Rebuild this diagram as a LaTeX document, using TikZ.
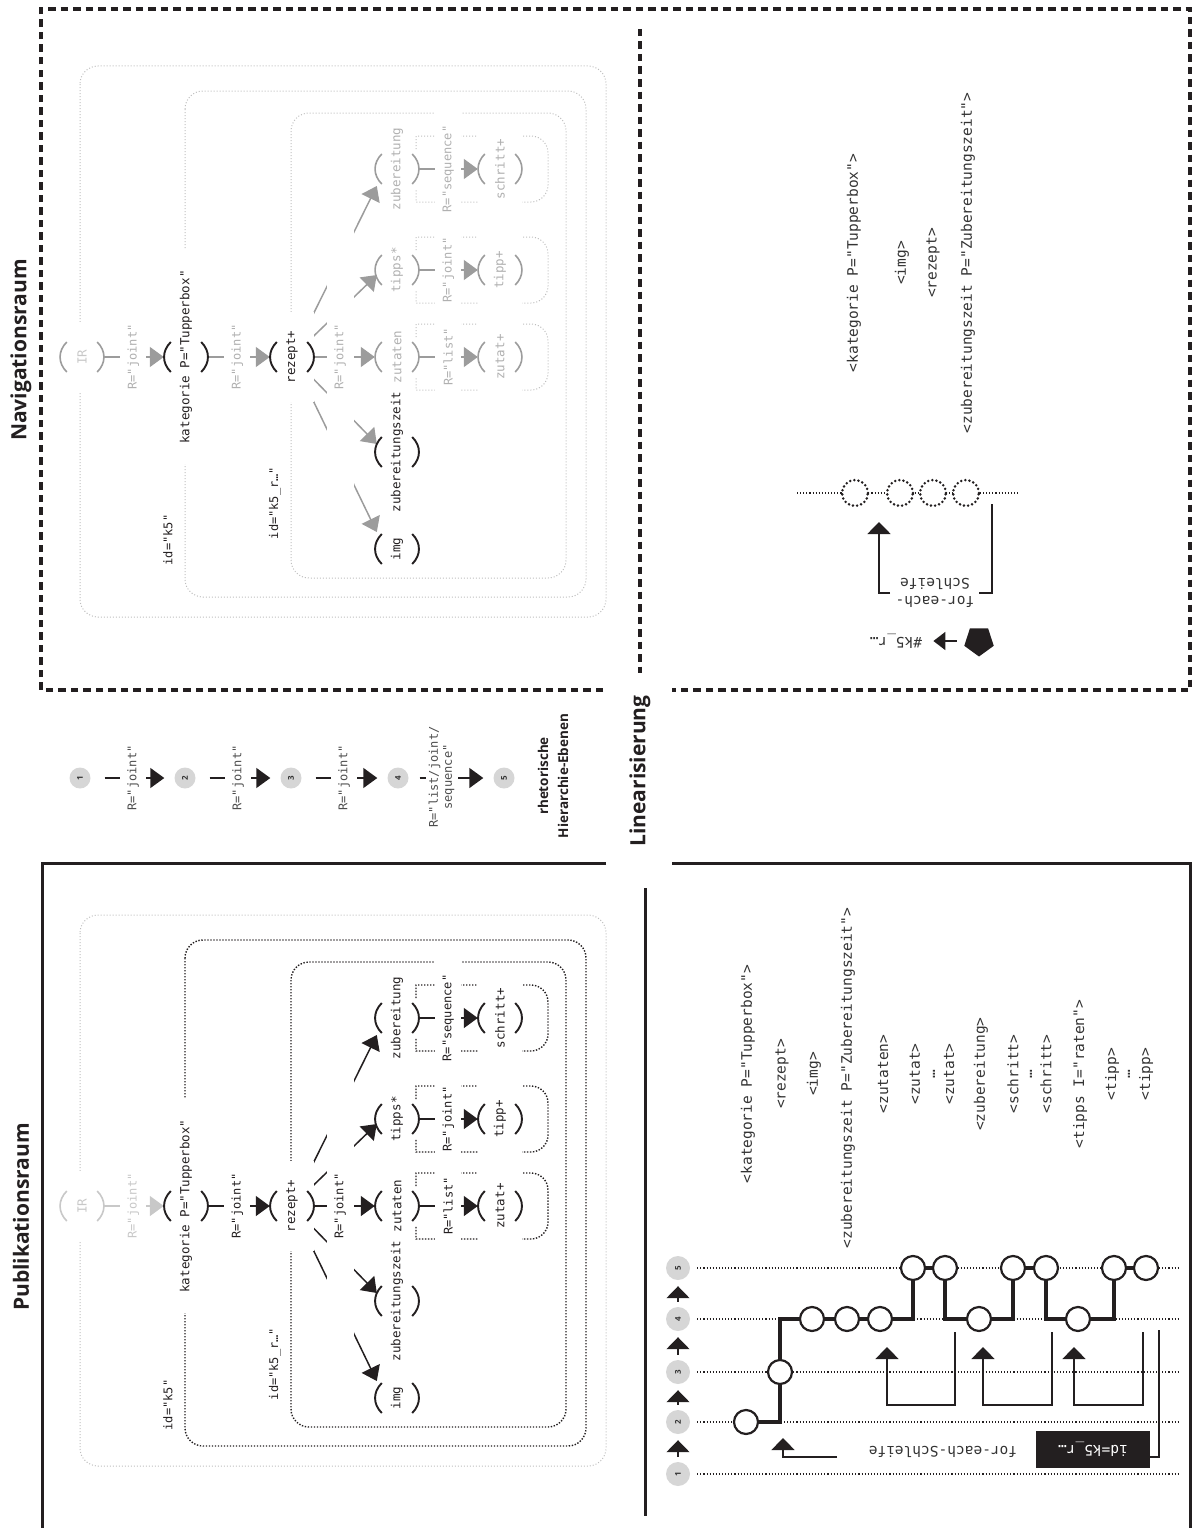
\documentclass[tikz,border=0pt]{standalone}
\usepackage{fontspec}
\setmainfont{Open Sans}
\newfontfamily\mono{DejaVu Sans Mono}
\usetikzlibrary{arrows.meta,calc,shapes.geometric}
\pgfdeclarelayer{background}
\pgfsetlayers{background,main}

\definecolor{ink}{HTML}{231F20}
\definecolor{gA}{HTML}{9C9C9C}
\definecolor{gB}{HTML}{B0B0B0}
\definecolor{gC}{HTML}{C8C8C8}
\definecolor{gD}{HTML}{BEBEBE}
\definecolor{lvfill}{HTML}{D6D6D6}
\definecolor{txt}{HTML}{333333}
\definecolor{labg}{HTML}{4D4D4D}

\tikzset{
 tn/.style={minimum width=44pt, inner sep=0pt, font=\mono\fontsize{12.5}{14}\selectfont},
 lab/.style={minimum width=26pt, inner xsep=0pt, inner ysep=3pt, font=\mono\fontsize{12}{14}\selectfont},
 wf/.style={fill=white},
 big/.style={-{Triangle[length=14pt,width=20pt]}},
 hiT/.style={text=ink}, loT/.style={text=gB}, faT/.style={text=gC},
 hiP/.style={draw=ink, line width=1.9pt}, loP/.style={draw=gA, line width=1.6pt}, faP/.style={draw=gC, line width=1.6pt},
 hiE/.style={draw=ink, line width=1.5pt}, loE/.style={draw=gA, line width=1.5pt}, faE/.style={draw=gC, line width=1.5pt},
 dotG/.style={draw=gD, line width=1pt, dash pattern=on 1pt off 2pt},
 dotK/.style={draw=ink, line width=1.4pt, dash pattern=on 1.4pt off 1.6pt},
 frameD/.style={draw=ink, line width=3.2pt, dash pattern=on 7.5pt off 5pt},
 frameS/.style={draw=ink, line width=3pt},
 ttl/.style={inner sep=0pt, font=\bfseries\fontsize{21}{24}\selectfont, text=ink},
 lst/.style={inner sep=0pt, font=\mono\fontsize{14.5}{18}\selectfont, text=txt},
 lvc/.style={circle, fill=lvfill, inner sep=0pt, minimum size=21pt, text=txt, font=\bfseries\fontsize{8}{8}\selectfont},
 oc/.style={circle, draw=ink, fill=white, line width=2.2pt, minimum size=24pt, inner sep=0pt},
 dc/.style={circle, draw=ink, fill=white, line width=2.8pt, dash pattern=on 0pt off 4.2pt, line cap=round, minimum size=26pt, inner sep=0pt},
 lvline/.style={draw=ink, line width=1.1pt, dash pattern=on 1.1pt off 2pt},
 upA/.style={-{Triangle[length=12pt,width=23pt]}},
 brk/.style={draw=ink, line width=1.3pt},
}

\newcommand\parL[2]{\draw[#2] ($(#1.west)+(7,-15)$) .. controls ($(#1.west)+(-2,-6)$) and ($(#1.west)+(-2,6)$) .. ($(#1.west)+(7,15)$);}
\newcommand\parR[2]{\draw[#2] ($(#1.east)+(-7,-15)$) .. controls ($(#1.east)+(2,-6)$) and ($(#1.east)+(2,6)$) .. ($(#1.east)+(-7,15)$);}
\newcommand\parLR[2]{\parL{#1}{#2}\parR{#1}{#2}}
\newcommand\smrect[1]{\draw[inR] (416,#1-20) -- (416,#1-33) -- (531,#1-33) arc[start angle=-90,end angle=0,radius=17] -- (548,#1+16) arc[start angle=0,end angle=90,radius=17] -- (416,#1+33) -- (416,#1+20);}

\newcommand\treebody[3]{%
 \node[tn, irT, wf, minimum height=70pt] (#1ir) at (82,0) {\rotatebox{90}{IR}};
 \node[tn, katT, wf, minimum height=214pt] (#1kat) at (186,0) {\rotatebox{90}{kategorie P="Tupperbox"}};
 \node[tn, rezT, wf, minimum height=90pt] (#1rez) at (292,0) {\rotatebox{90}{rezept+}};
 \node[tn, l4T] (#1zub) at (397,-188) {\rotatebox{90}{zubereitung}};
 \node[tn, l4T] (#1tip) at (397,-87) {\rotatebox{90}{tipps*}};
 \node[tn, l4T] (#1zut) at (397,0) {\rotatebox{90}{zutaten}};
 \node[tn, zzT] (#1zz) at (397,95) {\rotatebox{90}{zubereitungszeit}};
 \node[tn, imgT] (#1img) at (397,192) {\rotatebox{90}{img}};
 \node[tn, l5T, wf, minimum height=76pt] (#1schr) at (500,-188) {\rotatebox{90}{schritt+}};
 \node[tn, l5T, wf, minimum height=76pt] (#1tipp) at (500,-87) {\rotatebox{90}{tipp+}};
 \node[tn, l5T, wf, minimum height=76pt] (#1zutat) at (500,0) {\rotatebox{90}{zutat+}};
 \parLR{#1ir}{irP}\parLR{#1kat}{katP}\parLR{#1rez}{rezP}
 \parLR{#1zub}{l4P}\parLR{#1tip}{l4P}\parLR{#1zut}{l4P}
 \parLR{#1zz}{zzP}\parLR{#1img}{imgP}
 \parLR{#1schr}{l5P}\parLR{#1tipp}{l5P}\parLR{#1zutat}{l5P}
 \begin{pgfonlayer}{background}
  \draw[outR, rounded corners=18pt] (80,-291) rectangle (606,260);
  \draw[inR, rounded corners=18pt] (185,-266) rectangle (586,240);
  \draw[inR, rounded corners=18pt] (291,-244) rectangle (566,221);
  \smrect{-188}\smrect{-87}\smrect{0}
  \draw[e1, big] (#1ir.east) -- (#1kat.west);
  \draw[e2, big] (#1kat.east) -- (#1rez.west);
  \draw[fan, big] (#1rez.center) -- ($(#1zub.west)+(2,17)$);
  \draw[fan, big] (#1rez.center) -- ($(#1tip.west)+(2,5)$);
  \draw[fan, big] (#1rez.center) -- (#1zut.west);
  \draw[fan, big] (#1rez.center) -- ($(#1zz.west)+(2,-8)$);
  \draw[fan, big] (#1rez.center) -- ($(#1img.west)+(2,-17)$);
  \draw[e4, big] (#1zut.east) -- (#1zutat.west);
  \draw[e4, big] (#1tip.east) -- (#1tipp.west);
  \draw[e4, big] (#1zub.east) -- (#1schr.west);
 \end{pgfonlayer}
 \fill[white] (327,-140) rectangle (354,140);
 \node[lab, e1T, wf, minimum height=70pt] (#1la) at ($(#1ir.east)+(29,0)$) {\rotatebox{90}{R="joint"}};
 \node[lab, e2T, wf, minimum height=70pt] (#1lb) at ($(#1kat.east)+(29,0)$) {\rotatebox{90}{R="joint"}};
 \node[lab, fanT] (#1lc) at (340,0) {\rotatebox{90}{R="joint"}};
 \node[lab, e4T, wf, minimum height=76pt] (#1ld) at ($(#1zut.east)+(29,0)$) {\rotatebox{90}{R="list"}};
 \node[lab, e4T, wf, minimum height=76pt] (#1le) at ($(#1tip.east)+(29,0)$) {\rotatebox{90}{R="joint"}};
 \node[lab, e4T, wf, minimum height=124pt] (#1lf) at ($(#1zub.east)+(29,0)$) {\rotatebox{90}{R="sequence"}};
 \node[lab, hiT] (#1ida) at (168,#2) {\rotatebox{90}{id="k5"}};
 \node[lab, hiT] (#1idb) at (275,#3) {\rotatebox{90}{id="k5\_r…"}};
}

\begin{document}
\begin{tikzpicture}[x=1pt,y=-1pt]
\useasboundingbox (0,0) rectangle (1194,1528);

% frames
\draw[frameD] (603,690) -- (41,690) -- (41,9) -- (1190,9) -- (1190,690) -- (672,690);
\draw[frameD] (640,29) -- (640,673);
\draw[frameS] (606,863) -- (42,863) -- (42,1528);
\draw[frameS] (672,863) -- (1190,863) -- (1190,1528);
\draw[frameS] (645,888) -- (645,1516);

% titles
\node[ttl] (tN) at (21,350) {\rotatebox{90}{Navigationsraum}};
\node[ttl] (tP) at (21,1217) {\rotatebox{90}{Publikationsraum}};
\node[ttl] (tL) at (640,771) {\rotatebox{90}{Linearisierung}};

% Navigationsraum tree
\begin{scope}[shift={(0,357)},
 irT/.style=faT, irP/.style=loP, e1/.style=loE, e1T/.style=loT,
 katT/.style=hiT, katP/.style=hiP, e2/.style=loE, e2T/.style=loT,
 rezT/.style=hiT, rezP/.style=hiP, fan/.style=loE, fanT/.style=loT,
 zzT/.style=hiT, zzP/.style=hiP, imgT/.style=hiT, imgP/.style=hiP,
 l4T/.style=loT, l4P/.style=loP, e4/.style=loE, e4T/.style=loT,
 l5T/.style=loT, l5P/.style=loP, outR/.style=dotG, inR/.style=dotG]
\treebody{n}{183}{146}
\end{scope}

% Publikationsraum tree
\begin{scope}[shift={(0,1206)},
 irT/.style=faT, irP/.style=faP, e1/.style=faE, e1T/.style=faT,
 katT/.style=hiT, katP/.style=hiP, e2/.style=hiE, e2T/.style=hiT,
 rezT/.style=hiT, rezP/.style=hiP, fan/.style=hiE, fanT/.style=hiT,
 zzT/.style=hiT, zzP/.style=hiP, imgT/.style=hiT, imgP/.style=hiP,
 l4T/.style=hiT, l4P/.style=hiP, e4/.style=hiE, e4T/.style=hiT,
 l5T/.style=hiT, l5P/.style=hiP, outR/.style=dotG, inR/.style=dotK]
\treebody{p}{199}{158}
\end{scope}

% legend
\node[lvc] (g1) at (80,778) {\rotatebox{90}{1}};
\node[lvc] (g2) at (185,778) {\rotatebox{90}{2}};
\node[lvc] (g3) at (291,778) {\rotatebox{90}{3}};
\node[lvc] (g4) at (398,778) {\rotatebox{90}{4}};
\node[lvc] (g5) at (504,778) {\rotatebox{90}{5}};
\draw[hiE, big, shorten <=14pt, shorten >=10pt] (g1) -- (g2);
\draw[hiE, big, shorten <=14pt, shorten >=10pt] (g2) -- (g3);
\draw[hiE, big, shorten <=14pt, shorten >=10pt] (g3) -- (g4);
\draw[hiE, big, shorten <=11pt, shorten >=10pt] (g4) -- (g5);
\node[lab, text=labg, wf, minimum height=70pt] (gl1) at ($(g1)+(53,0)$) {\rotatebox{90}{R="joint"}};
\node[lab, text=labg, wf, minimum height=70pt] (gl2) at ($(g2)+(53,0)$) {\rotatebox{90}{R="joint"}};
\node[lab, text=labg, wf, minimum height=70pt] (gl3) at ($(g3)+(53,0)$) {\rotatebox{90}{R="joint"}};
\node[lab, text=labg, wf, inner xsep=2pt] (gl4) at (442,777) {\rotatebox{90}{\begin{tabular}{@{}c@{}}R="list/joint/\\sequence"\end{tabular}}};
\node[inner sep=0pt, font=\bfseries\fontsize{13.5}{20}\selectfont, text=ink] (leg) at (554,776) {\rotatebox{90}{\begin{tabular}{@{}c@{}}rhetorische\\Hierarchie-Ebenen\end{tabular}}};

% Navigationsraum linearisation
\node[lst] (na) at (854,263) {\rotatebox{90}{<kategorie P="Tupperbox">}};
\node[lst] (nb) at (902,263) {\rotatebox{90}{<img>}};
\node[lst] (nc) at (933,263) {\rotatebox{90}{<rezept>}};
\node[lst] (nd) at (968,263) {\rotatebox{90}{<zubereitungszeit P="Zubereitungszeit">}};
\coordinate (dl) at (797,493);
\coordinate (dr) at (1019,493);
\draw[lvline] (dl) -- (dr);
\node[dc] (o1) at (855,493) {};
\node[dc] (o2) at (900,493) {};
\node[dc] (o3) at (933,493) {};
\node[dc] (o4) at (966,493) {};
\coordinate (bR) at (992,504);
\coordinate (bRe) at (979,593);
\coordinate (bLs) at (890,593);
\coordinate (bLt) at (879,522);
\draw[brk, line width=1.8pt] (bR) |- (bRe);
\draw[brk, line width=1.8pt, upA] (bLs) -| (bLt);
\node[lst] (fe1) at (935,591) {\rotatebox{180}{\begin{tabular}{@{}c@{}}for-each-\\Schleife\end{tabular}}};
\node[regular polygon, regular polygon sides=5, fill=ink, minimum size=31pt, inner sep=0pt, shape border rotate=180] (pent) at (979,641) {};
\node[lst] (kref) at (896,641) {\rotatebox{180}{\#k5\_r…}};
\draw[draw=ink, line width=1.8pt, -{Triangle[length=12pt,width=18pt]}, shorten <=9pt, shorten >=11pt] (pent) -- (kref);

% Publikationsraum linearisation: list
\node[lst] (m1) at (748,1074) {\rotatebox{90}{<kategorie P="Tupperbox">}};
\node[lst] (m2) at (782,1074) {\rotatebox{90}{<rezept>}};
\node[lst] (m3) at (814,1074) {\rotatebox{90}{<img>}};
\node[lst] (m4) at (848,1078) {\rotatebox{90}{<zubereitungszeit P="Zubereitungszeit">}};
\node[lst] (m5) at (883,1074) {\rotatebox{90}{<zutaten>}};
\node[lst] (m6) at (915,1074) {\rotatebox{90}{<zutat>}};
\node[lst] (m7) at (934,1074) {\rotatebox{90}{…}};
\node[lst] (m8) at (949,1074) {\rotatebox{90}{<zutat>}};
\node[lst] (m9) at (981,1074) {\rotatebox{90}{<zubereitung>}};
\node[lst] (m10) at (1013,1074) {\rotatebox{90}{<schritt>}};
\node[lst] (m11) at (1031,1074) {\rotatebox{90}{…}};
\node[lst] (m12) at (1046,1074) {\rotatebox{90}{<schritt>}};
\node[lst] (m13) at (1080,1074) {\rotatebox{90}{<tipps I="raten">}};
\node[lst] (m14) at (1112,1074) {\rotatebox{90}{<tipp>}};
\node[lst] (m15) at (1129,1074) {\rotatebox{90}{…}};
\node[lst] (m16) at (1146,1074) {\rotatebox{90}{<tipp>}};

% levels
\foreach \i/\yy in {1/1474,2/1422,3/1372,4/1319,5/1268}{
 \node[lvc, minimum size=24pt] (b\i) at (678,\yy) {\rotatebox{90}{\i}};
 \coordinate (z\i) at (1180,\yy);
 \draw[lvline, shorten <=7pt] (b\i) -- (z\i);
}
\foreach \i/\j in {1/2,2/3,3/4,4/5}{\draw[hiE, upA, shorten <=5pt, shorten >=6pt] (b\i) -- (b\j);}

% staircase
\coordinate (q1) at (746,1422);
\coordinate (q2) at (780,1372);
\coordinate (q3) at (812,1319);
\coordinate (q4) at (847,1319);
\coordinate (q5) at (880,1319);
\coordinate (q6) at (913,1268);
\coordinate (q7) at (945,1268);
\coordinate (q8) at (979,1319);
\coordinate (q9) at (1013,1268);
\coordinate (q10) at (1046,1268);
\coordinate (q11) at (1078,1319);
\coordinate (q12) at (1114,1268);
\coordinate (q13) at (1146,1268);
\draw[draw=ink, line width=3.8pt] (q1) -| (q2) |- (q3) -- (q5) -| (q6) -- (q7) |- (q8) -| (q9) -- (q10) |- (q11) -| (q12) -- (q13);
\foreach \i in {1,...,13}{\node[oc] (c\i) at (q\i) {};}

% loops
\coordinate (la1) at (955,1332); \coordinate (la2) at (887,1405); \coordinate (la3) at (887,1347);
\coordinate (lb1) at (1052,1332); \coordinate (lb2) at (983,1405); \coordinate (lb3) at (983,1347);
\coordinate (lc1) at (1143,1332); \coordinate (lc2) at (1074,1405); \coordinate (lc3) at (1074,1347);
\draw[brk, upA] (la1) |- (la2) -- (la3);
\draw[brk, upA] (lb1) |- (lb2) -- (lb3);
\draw[brk, upA] (lc1) |- (lc2) -- (lc3);

\node[fill=ink, minimum width=114pt, minimum height=37pt, inner sep=0pt, text=white, font=\mono\fontsize{14.5}{16}\selectfont] (idb) at (1093,1449) {\rotatebox{180}{id=k5\_r…}};
\coordinate (ol) at (1159,1330);
\draw[brk] (ol) |- ([yshift=-8pt]idb.east);
\node[lst] (fes) at (943,1452) {\rotatebox{180}{for-each-Schleife}};
\coordinate (fs) at (837,1457);
\coordinate (ft) at (783,1438);
\draw[brk, upA] (fs) -| (ft);
\end{tikzpicture}
\end{document}
